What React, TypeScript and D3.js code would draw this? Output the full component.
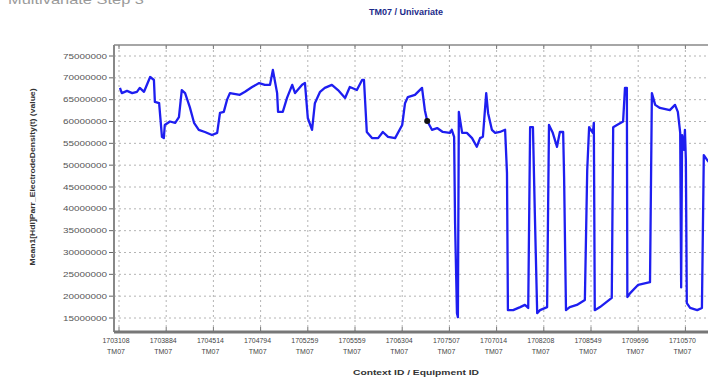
import React from "react";
import * as d3 from "d3";

const chartTitle = "TM07 / Univariate";
const pageTitle = "Multivariate Step 3";
const yTitle = "Mean1[Hdl]Parr_ElectrodeDensity(t)     (value)";
const xTitle = "Context ID / Equipment ID";

const contextIds = [
  "1703108", "1703884", "1704514", "1704794", "1705259", "1705559", "1706304",
  "1707507", "1707014", "1708208", "1708549", "1709696", "1710570",
];
const equipmentIds = contextIds.map(() => "TM07");
const yTicks = [75e6, 70e6, 65e6, 60e6, 55e6, 50e6, 45e6, 40e6, 35e6, 30e6, 25e6, 20e6, 15e6];

// sample index (100 samples between labelled context ids)
const sampleIdx = [
  2, 6, 17, 28, 38, 44, 53, 66, 74, 76, 85, 91, 95, 97, 108, 119, 127, 133, 140, 150,
  159, 169, 182, 197, 208, 214, 222, 229, 235, 256, 267, 282, 297, 309, 320, 326, 335, 337, 347, 356,
  367, 373, 388, 394, 400, 409, 415, 426, 436, 451, 464, 479, 489, 504, 515, 519, 525, 536, 549, 559,
  570, 585, 600, 606, 612, 627, 642, 648, 653, 663, 674, 686, 701, 705, 710, 712, 716, 718, 720, 727,
  737, 748, 758, 765, 771, 778, 782, 790, 797, 807, 818, 822, 824, 835, 850, 860, 867, 871, 877, 881,
  886, 892, 907, 909, 911, 919, 928, 934, 941, 943, 947, 955, 970, 987, 992, 996, 1004, 1006, 1008, 1019,
  1044, 1047, 1055, 1068, 1072, 1076, 1077, 1083, 1100, 1125, 1129, 1136, 1146, 1167, 1178, 1184, 1189, 1191,
  1193, 1197, 1199, 1201, 1203, 1210, 1225, 1235, 1239, 1246, 1256,
];
const densityValues = [
  67.7, 66.5, 67.0, 66.5, 66.8, 67.7, 66.8, 70.2, 69.5, 64.5, 64.2, 56.5, 56.2, 59.2, 60.0, 59.7, 61.0, 67.2, 66.5, 63.3,
  59.7, 58.1, 57.6, 56.9, 57.4, 62.0, 62.2, 65.0, 66.5, 66.1, 66.8, 67.9, 68.8, 68.4, 68.4, 71.8, 66.5, 62.2, 62.2, 65.4,
  68.4, 66.5, 68.4, 68.8, 60.8, 58.1, 64.2, 66.8, 67.7, 68.4, 67.2, 65.4, 67.9, 67.2, 69.5, 69.5, 57.6, 56.2, 56.2, 57.6,
  56.5, 56.2, 59.2, 64.2, 65.6, 66.1, 67.7, 62.6, 60.1, 58.1, 58.5, 57.6, 57.4, 58.1, 56.5, 36.8, 16.1, 15.2, 62.2, 57.4,
  57.4, 56.2, 54.2, 56.2, 56.5, 66.5, 61.9, 58.1, 57.4, 57.6, 58.1, 48.2, 16.8, 16.8, 17.5, 18.0, 17.3, 58.7, 58.7, 39.0,
  16.1, 16.8, 17.5, 39.0, 59.2, 57.4, 54.2, 57.6, 57.6, 47.3, 16.8, 17.5, 18.0, 19.1, 48.9, 58.7, 57.4, 59.7, 16.8, 17.5,
  19.6, 58.7, 59.2, 60.0, 67.7, 67.7, 19.8, 20.7, 22.6, 23.2, 66.5, 63.8, 63.1, 62.6, 63.8, 62.2, 57.4, 22.0,
  56.9, 53.5, 58.1, 51.2, 18.4, 17.3, 16.8, 17.3, 52.3, 51.2, 50.0,
].map((v) => v * 1e6);

const markerIdx = 653;
const markerValue = 60.1e6;

export default function App() {
  const W = 708, H = 379;
  const frameL = 114, frameR = 740, frameT = 45, frameB = 332;
  const x = d3.scaleLinear().domain([0, 1200]).range([119, 685.4]);
  const y = d3.scaleLinear().domain([15e6, 75e6]).range([318, 56]);
  const pts = sampleIdx.map((d, i) => [d, densityValues[i]] as [number, number]);
  const line = d3.line<[number, number]>().x((d) => x(d[0])).y((d) => y(d[1]))(pts) || "";
  const xTickIdx = contextIds.map((_, i) => i * 100);
  const font = "Arial, 'Liberation Sans', sans-serif";

  return (
    <svg width={W} height={H} style={{ position: "absolute", left: 0, top: 0, background: "#fff" }}
      fontFamily={font}>
      <rect x={0} y={0} width={W} height={H} fill="#fff" />
      <text x={8} y={4} fontSize={13} fill="#9a9a9a" textLength={136} lengthAdjust="spacingAndGlyphs">{pageTitle}</text>
      <text x={406} y={15} fontSize={9} fontWeight="bold" fill="#1c2a8a" textAnchor="middle">{chartTitle}</text>

      <defs>
        <clipPath id="plotClip">
          <rect x={frameL} y={frameT} width={frameR - frameL} height={frameB - frameT} />
        </clipPath>
      </defs>
      <rect x={frameL} y={frameT} width={frameR - frameL} height={frameB - frameT} fill="#fff" />

      {yTicks.map((t) => (
        <g key={"y" + t}>
          <line x1={frameL} x2={frameR} y1={y(t)} y2={y(t)} stroke="#b4b4b4" strokeWidth={1} strokeDasharray="2,3" />
          <line x1={frameL - 5} x2={frameL} y1={y(t)} y2={y(t)} stroke="#666" strokeWidth={1} />
          <text x={frameL - 7} y={y(t) + 2.5} fontSize={8} fill="#555" textAnchor="end" textLength={44}
            lengthAdjust="spacingAndGlyphs">{String(t)}</text>
        </g>
      ))}
      {xTickIdx.map((t, i) => (
        <g key={"x" + t}>
          <line x1={x(t)} x2={x(t)} y1={frameT} y2={frameB} stroke="#b4b4b4" strokeWidth={1} strokeDasharray="2,3" />
          <line x1={x(t)} x2={x(t)} y1={frameT} y2={frameT + 4} stroke="#777" strokeWidth={1} />
          <line x1={x(t)} x2={x(t)} y1={frameB - 5} y2={frameB} stroke="#777" strokeWidth={1} />
          <text x={x(t) - 3} y={343} fontSize={7} fill="#444" textAnchor="middle" textLength={27}
            lengthAdjust="spacingAndGlyphs">{contextIds[i]}</text>
          <text x={x(t) - 3} y={354} fontSize={7} fill="#444" textAnchor="middle">{equipmentIds[i]}</text>
        </g>
      ))}

      <g clipPath="url(#plotClip)">
        <path d={line} fill="none" stroke="#1e1ef0" strokeWidth={2.3} strokeLinejoin="round" />
        <circle cx={x(markerIdx)} cy={y(markerValue)} r={3} fill="#111" />
      </g>

      <line x1={frameL} x2={frameR} y1={frameT} y2={frameT} stroke="#888" strokeWidth={1.5} />
      <line x1={frameL} x2={frameL} y1={frameT} y2={frameB} stroke="#888" strokeWidth={2} />
      <line x1={frameL} x2={frameR} y1={frameB} y2={frameB} stroke="#777" strokeWidth={3} />

      <text x={416} y={375} fontSize={8} fontWeight="bold" fill="#333" textAnchor="middle" textLength={126}
        lengthAdjust="spacingAndGlyphs">{xTitle}</text>
      <text transform="translate(35,177) rotate(-90)" fontSize={8} fontWeight="bold" fill="#333"
        textAnchor="middle" textLength={177} lengthAdjust="spacingAndGlyphs">{yTitle}</text>
    </svg>
  );
}
